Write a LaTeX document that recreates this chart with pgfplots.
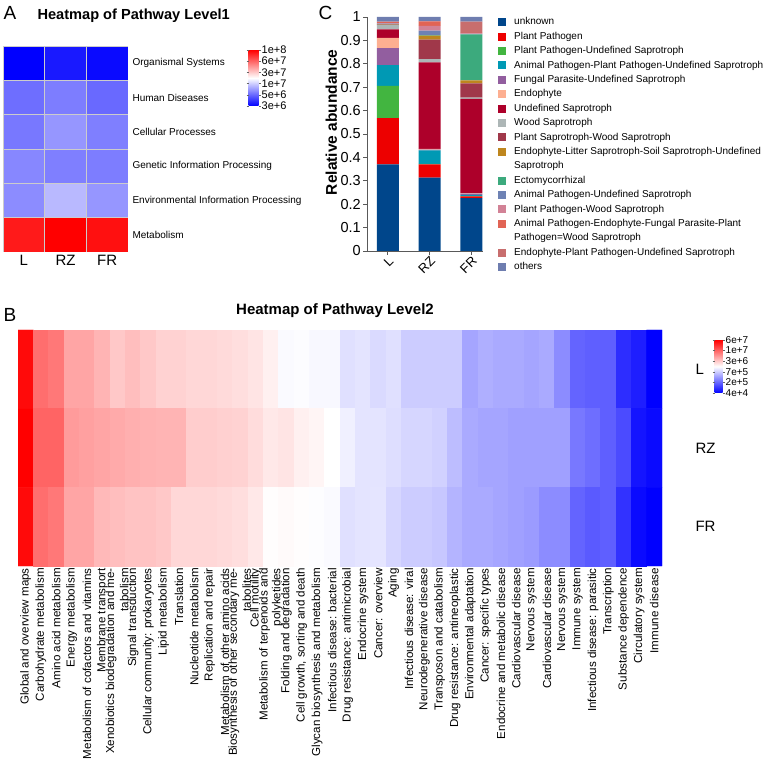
\documentclass[border=0pt]{standalone}
\usepackage{pgfplots}
\pgfplotsset{compat=1.18}
\usepackage{fontspec}
\setmainfont{Liberation Sans}
\usetikzlibrary{calc}

\newcommand{\fsz}[1]{\fontsize{#1}{#1}\selectfont}

% guild colours
\definecolor{gUnknown}{HTML}{00468B}
\definecolor{gPP}{HTML}{ED0000}
\definecolor{gPPUS}{HTML}{42B540}
\definecolor{gAPPPUS}{HTML}{0099B4}
\definecolor{gFPUS}{HTML}{925E9F}
\definecolor{gEndo}{HTML}{FDAF91}
\definecolor{gUS}{HTML}{AD002A}
\definecolor{gWS}{HTML}{ADB6B6}
\definecolor{gPSWS}{HTML}{A0384A}
\definecolor{gELSS}{HTML}{BE861E}
\definecolor{gEcto}{HTML}{3CAA7D}
\definecolor{gAPUS}{HTML}{6E82B4}
\definecolor{gPPWS}{HTML}{D28296}
\definecolor{gAPEF}{HTML}{E16455}
\definecolor{gEPPUS}{HTML}{C86E6E}
\definecolor{gOther}{HTML}{6E7DAF}

\pgfplotsset{colormap={bwr}{rgb255=(0,0,255) rgb255=(255,255,255) rgb255=(255,0,0)}}

\begin{document}
\begin{tikzpicture}
\useasboundingbox (0pt,0pt) rectangle (767pt,765pt);

% ---------------- panel labels and titles ----------------
\node[anchor=west, font=\fsz{19}] at (0pt,752pt) {A};
\node[anchor=west, font=\fsz{19}] at (0pt,450pt) {B};
\node[anchor=west, font=\fsz{19}] at (315pt,752pt) {C};
\node[anchor=west, font=\bfseries\fsz{14.6}] at (34pt,749pt) {Heatmap of Pathway Level1};
\node[font=\bfseries\fsz{15}] at (335pt,454pt) {Heatmap of Pathway Level2};

% ---------------- A: level 1 heatmap ----------------
\begin{axis}[
  at={(3pt,513pt)}, anchor=south west,
  scale only axis, width=125pt, height=206pt,
  xmin=-0.5, xmax=2.5, ymin=-0.5, ymax=5.5, y dir=reverse,
  axis line style={draw=none},
  major tick length=0pt,
  xtick={0,1,2}, xticklabels={L,RZ,FR},
  xticklabel style={font=\fsz{15}},
  ytick={0,1,2,3,4,5},
  yticklabels={Organismal Systems,Human Diseases,Cellular Processes,Genetic Information Processing,Environmental Information Processing,Metabolism},
  yticklabel pos=right,
  yticklabel style={anchor=west, font=\fsz{10}, xshift=1pt},
  colormap name=bwr,
  point meta min=0, point meta max=1,
  colorbar,
  colorbar style={
    at={($(parent axis.north east)+(112pt,-4pt)$)}, anchor=north west,
    width=10pt, height=56pt,
    axis line style={draw=none},
    ytick={0,0.2,0.4,0.6,0.8,1},
    yticklabels={3e+6,5e+6,1e+7,3e+7,6e+7,1e+8},
    yticklabel style={font=\fsz{11}, inner sep=1pt},
    tick align=outside, major tick length=2pt,
    tick style={black!60},
  },
]
\addplot[matrix plot*, shader=faceted, faceted color=black!20, line width=0.7pt,
  mesh/cols=3, point meta=explicit] coordinates {
  (0,0)[0.00] (1,0)[0.05] (2,0)[0.02]
  (0,1)[0.216] (1,1)[0.245] (2,1)[0.206]
  (0,2)[0.235] (1,2)[0.294] (2,2)[0.25]
  (0,3)[0.265] (1,3)[0.25] (2,3)[0.245]
  (0,4)[0.275] (1,4)[0.363] (2,4)[0.294]
  (0,5)[0.95] (1,5)[1.0] (2,5)[0.97]
};
\end{axis}

% ---------------- C: stacked relative abundance ----------------
\begin{axis}[
  at={(367pt,514pt)}, anchor=south west,
  scale only axis, width=116pt, height=234pt,
  ybar stacked, bar width=22pt,
  xmin=-0.5, xmax=2.28, ymin=0, ymax=1,
  axis x line*=bottom, axis y line*=left,
  axis line style={black!65, line width=0.8pt},
  tick align=outside, major tick length=4pt,
  tick style={black!65, line width=0.8pt},
  xtick={0,1,2}, xticklabels={L,RZ,FR},
  xticklabel style={rotate=45, anchor=north east, font=\fsz{13}, inner sep=0.5pt},
  ytick={0,0.1,0.2,0.3,0.4,0.5,0.6,0.7,0.8,0.9,1},
  yticklabels={0,0.1,0.2,0.3,0.4,0.5,0.6,0.7,0.8,0.9,1},
  yticklabel style={font=\fsz{14.5}, inner sep=2pt},
  ylabel={Relative abundance},
  ylabel style={font=\bfseries\fsz{15.5}, at={(ticklabel cs:0.55)}, yshift=-2pt},
  legend cell align=left,
  legend image code/.code={\fill[#1] (0pt,-4pt) rectangle (8pt,4pt);},
  legend style={at={(rel axis cs:1,1)}, anchor=north west, xshift=15pt, yshift=1pt,
    draw=none, fill=none, inner sep=0pt, row sep=2.4pt, font=\fsz{10},
    nodes={inner sep=1pt, text height=7.8pt, text depth=2.2pt},
    /tikz/every odd column/.append style={column sep=7pt}},
]
\addplot[fill=gUnknown, draw=none] coordinates {(0,0.370) (1,0.313) (2,0.226)};
\addlegendentry{unknown}
\addplot[fill=gPP, draw=none] coordinates {(0,0.198) (1,0.057) (2,0.007)};
\addlegendentry{Plant Pathogen}
\addplot[fill=gPPUS, draw=none] coordinates {(0,0.138) (1,0.002) (2,0.002)};
\addlegendentry{Plant Pathogen-Undefined Saprotroph}
\addplot[fill=gAPPPUS, draw=none] coordinates {(0,0.088) (1,0.058) (2,0.005)};
\addlegendentry{Animal Pathogen-Plant Pathogen-Undefined Saprotroph}
\addplot[fill=gFPUS, draw=none] coordinates {(0,0.073) (1,0.003) (2,0.005)};
\addlegendentry{Fungal Parasite-Undefined Saprotroph}
\addplot[fill=gEndo, draw=none] coordinates {(0,0.044) (1,0.003) (2,0.002)};
\addlegendentry{Endophyte}
\addplot[fill=gUS, draw=none] coordinates {(0,0.036) (1,0.370) (2,0.403)};
\addlegendentry{Undefined Saprotroph}
\addplot[fill=gWS, draw=none] coordinates {(0,0.018) (1,0.014) (2,0.005)};
\addlegendentry{Wood Saprotroph}
\addplot[fill=gPSWS, draw=none] coordinates {(0,0.002) (1,0.083) (2,0.061)};
\addlegendentry{Plant Saprotroph-Wood Saprotroph}
\addplot[fill=gELSS, draw=none] coordinates {(0,0.001) (1,0.017) (2,0.013)};
\addlegendentry{Endophyte-Litter Saprotroph-Soil Saprotroph-Undefined}
\addlegendimage{empty legend}
\addlegendentry{Saprotroph}
\addplot[fill=gEcto, draw=none] coordinates {(0,0.001) (1,0.002) (2,0.197)};
\addlegendentry{Ectomycorrhizal}
\addplot[fill=gAPUS, draw=none] coordinates {(0,0.003) (1,0.020) (2,0.002)};
\addlegendentry{Animal Pathogen-Undefined Saprotroph}
\addplot[fill=gPPWS, draw=none] coordinates {(0,0.002) (1,0.020) (2,0.002)};
\addlegendentry{Plant Pathogen-Wood Saprotroph}
\addplot[fill=gAPEF, draw=none] coordinates {(0,0.004) (1,0.018) (2,0.002)};
\addlegendentry{Animal Pathogen-Endophyte-Fungal Parasite-Plant}
\addlegendimage{empty legend}
\addlegendentry{Pathogen=Wood Saprotroph}
\addplot[fill=gEPPUS, draw=none] coordinates {(0,0.002) (1,0.002) (2,0.048)};
\addlegendentry{Endophyte-Plant Pathogen-Undefined Saprotroph}
\addplot[fill=gOther, draw=none] coordinates {(0,0.020) (1,0.018) (2,0.020)};
\addlegendentry{others}
\end{axis}

% ---------------- B: level 2 heatmap ----------------
% wrapped category names are set as two single-line labels, one on each side of the column
\begin{axis}[
  at={(18pt,199pt)}, anchor=south west,
  scale only axis, width=644pt, height=236pt,
  xmin=-0.5, xmax=41.5, ymin=-0.5, ymax=2.5, y dir=reverse,
  axis line style={draw=none},
  major tick length=0pt,
  xtick={0,1,2,3,4,5,5.58,6.42,7,8,9,10,11,12,13,13.58,14.42,15,15.58,16.42,
         17,18,19,20,21,22,23,24,25,26,27,28,29,30,31,32,33,34,35,36,37,38,39,40,41},
  xticklabels={
    {Global and overview maps},{Carbohydrate metabolism},{Amino acid metabolism},
    {Energy metabolism},{Metabolism of cofactors and vitamins},{Membrane transport},
    {Xenobiotics biodegradation and me-},{tabolism},{Signal transduction},
    {Cellular community: prokaryotes},{Lipid metabolism},{Translation},
    {Nucleotide metabolism},{Replication and repair},{Metabolism of other amino acids},
    {Biosynthesis of other secondary me-},{tabolites},{Cell motility},
    {Metabolism of terpenoids and},{polyketides},{Folding and degradation},
    {Cell growth, sorting and death},{Glycan biosynthesis and metabolism},
    {Infectious disease: bacterial},{Drug resistance: antimicrobial},
    {Endocrine system},{Cancer: overview},{Aging},{Infectious disease: viral},
    {Neurodegenerative disease},{Transposon and catabolism},
    {Drug resistance: antineoplastic},{Environmental adaptation},
    {Cancer: specific types},{Endocrine and metabolic disease},
    {Cardiovascular disease},{Nervous system},{Cardiovascular disease},
    {Nervous system},{Immune system},{Infectious disease: parasitic},
    {Transcription},{Substance dependence},{Circulatory system},{Immune disease}},
  xticklabel style={rotate=90, anchor=east, inner sep=2pt, font=\fsz{11.6}},
  ytick={0,1,2}, yticklabels={L,RZ,FR},
  yticklabel pos=right,
  yticklabel style={anchor=west, font=\fsz{15}, xshift=30pt},
  colormap name=bwr,
  point meta min=0, point meta max=1,
  colorbar,
  colorbar style={
    at={($(parent axis.north east)+(44pt,-10pt)$)}, anchor=north west,
    width=8pt, height=53pt,
    axis line style={draw=none},
    ytick={0,0.2,0.4,0.6,0.8,1},
    yticklabels={4e+4,2e+5,7e+5,3e+6,1e+7,6e+7},
    yticklabel style={font=\fsz{10}, inner sep=1pt},
    tick align=outside, major tick length=2pt,
    tick style={black!60},
  },
]
\addplot[matrix plot*, mesh/cols=42, point meta=explicit] coordinates {
  (0,0)[0.98] (1,0)[0.785] (2,0)[0.765] (3,0)[0.676] (4,0)[0.676] (5,0)[0.647]
  (6,0)[0.608] (7,0)[0.627] (8,0)[0.608] (9,0)[0.588] (10,0)[0.588] (11,0)[0.578]
  (12,0)[0.578] (13,0)[0.572] (14,0)[0.565] (15,0)[0.553] (16,0)[0.53] (17,0)[0.49]
  (18,0)[0.495] (19,0)[0.486] (20,0)[0.486] (21,0)[0.44] (22,0)[0.447] (23,0)[0.427]
  (24,0)[0.44] (25,0)[0.40] (26,0)[0.40] (27,0)[0.40] (28,0)[0.40] (29,0)[0.324]
  (30,0)[0.343] (31,0)[0.333] (32,0)[0.333] (33,0)[0.324] (34,0)[0.333] (35,0)[0.275]
  (36,0)[0.196] (37,0)[0.186] (38,0)[0.186] (39,0)[0.088] (40,0)[0.059] (41,0)[0.0]
  (0,1)[1.0] (1,1)[0.804] (2,1)[0.804] (3,1)[0.696] (4,1)[0.686] (5,1)[0.676]
  (6,1)[0.667] (7,1)[0.657] (8,1)[0.651] (9,1)[0.647] (10,1)[0.647] (11,1)[0.598]
  (12,1)[0.598] (13,1)[0.592] (14,1)[0.588] (15,1)[0.569] (16,1)[0.545] (17,1)[0.553]
  (18,1)[0.53] (19,1)[0.52] (20,1)[0.5] (21,1)[0.47] (22,1)[0.447] (23,1)[0.447]
  (24,1)[0.435] (25,1)[0.42] (26,1)[0.42] (27,1)[0.41] (28,1)[0.37] (29,1)[0.333]
  (30,1)[0.324] (31,1)[0.324] (32,1)[0.314] (33,1)[0.314] (34,1)[0.314] (35,1)[0.314]
  (36,1)[0.235] (37,1)[0.216] (38,1)[0.186] (39,1)[0.147] (40,1)[0.04] (41,1)[0.02]
  (0,2)[0.98] (1,2)[0.785] (2,2)[0.765] (3,2)[0.676] (4,2)[0.676] (5,2)[0.637]
  (6,2)[0.627] (7,2)[0.618] (8,2)[0.618] (9,2)[0.608] (10,2)[0.578] (11,2)[0.578]
  (12,2)[0.578] (13,2)[0.572] (14,2)[0.565] (15,2)[0.545] (16,2)[0.505] (17,2)[0.51]
  (18,2)[0.505] (19,2)[0.497] (20,2)[0.49] (21,2)[0.44] (22,2)[0.447] (23,2)[0.45]
  (24,2)[0.42] (25,2)[0.40] (26,2)[0.40] (27,2)[0.39] (28,2)[0.353] (29,2)[0.333]
  (30,2)[0.333] (31,2)[0.324] (32,2)[0.314] (33,2)[0.304] (34,2)[0.275] (35,2)[0.275]
  (36,2)[0.196] (37,2)[0.176] (38,2)[0.186] (39,2)[0.098] (40,2)[0.02] (41,2)[0.0]
};
\end{axis}
\end{tikzpicture}
\end{document}
